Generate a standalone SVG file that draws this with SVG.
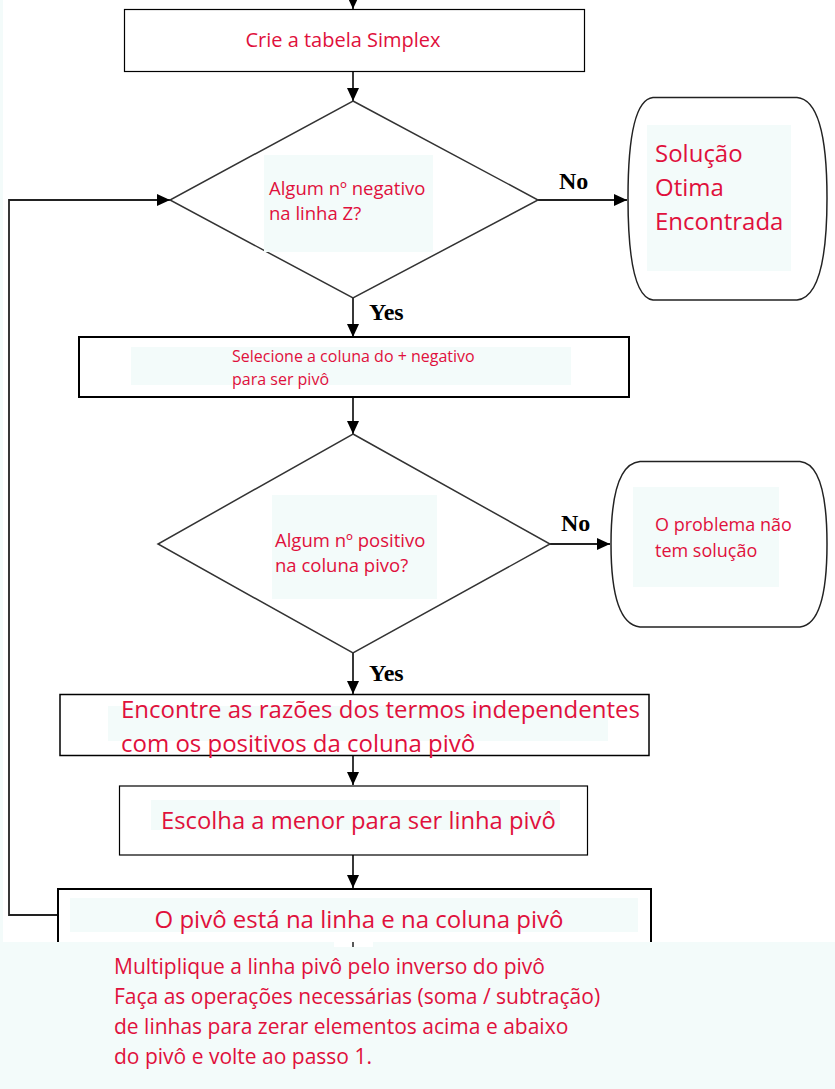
<svg xmlns="http://www.w3.org/2000/svg" width="835" height="1089" viewBox="0 0 835 1089">
<defs>
<marker id="ah" viewBox="0 0 13 12" refX="13" refY="6" markerWidth="13" markerHeight="12" markerUnits="userSpaceOnUse" orient="auto">
<path d="M0,0 L13,6 L0,12 Z" fill="#000"/>
</marker>
</defs>
<style>
.t{font-family:"Open Sans","Noto Sans","Liberation Sans",sans-serif;fill:#e0103c}
.bg{fill:#f3fbfa}
.box{fill:#fff;stroke:#000}
.dia{fill:#fff;stroke:#333;stroke-width:1.5}
.lbl{font-family:"Liberation Serif",serif;font-weight:bold;font-size:24px;fill:#000}
.c{fill:none;stroke:#222;stroke-width:1.8}
</style>
<rect x="0" y="0" width="835" height="1089" fill="#fff"/>
<rect x="0" y="0" width="3" height="1089" class="bg"/>

<g id="connectors">
<line class="c" x1="353" y1="0" x2="353" y2="9" marker-end="url(#ah)"/>
<line class="c" x1="353" y1="71" x2="353" y2="101" marker-end="url(#ah)"/>
<line class="c" x1="538" y1="200" x2="627" y2="200" marker-end="url(#ah)"/>
<line class="c" x1="353" y1="298" x2="353" y2="337" marker-end="url(#ah)"/>
<line class="c" x1="353" y1="397" x2="353" y2="434" marker-end="url(#ah)"/>
<line class="c" x1="550" y1="544" x2="610" y2="544" marker-end="url(#ah)"/>
<line class="c" x1="353" y1="653" x2="353" y2="694" marker-end="url(#ah)"/>
<line class="c" x1="353" y1="755" x2="353" y2="785" marker-end="url(#ah)"/>
<line class="c" x1="353" y1="855" x2="353" y2="888" marker-end="url(#ah)"/>
<polyline class="c" points="58,915 9,915 9,200 170,200" marker-end="url(#ah)"/>
<text class="lbl" x="559" y="189">No</text>
<text class="lbl" x="369" y="320">Yes</text>
<text class="lbl" x="561" y="531">No</text>
<text class="lbl" x="369" y="681">Yes</text>
</g>

<g id="n1">
<rect class="box" x="124.5" y="9.5" width="460" height="62" stroke-width="1.2"/>
<text class="t" x="343" y="47" font-size="20" text-anchor="middle">Crie a tabela Simplex</text>
</g>

<g id="d1">
<polygon class="dia" points="353,101 538,200 353,298 170,200"/>
<rect class="bg" x="264" y="155" width="169" height="97"/>
<text class="t" x="269" y="195" font-size="18.5">Algum nº negativo</text>
<text class="t" x="269" y="220" font-size="18.5">na linha Z?</text>
</g>

<g id="t1">
<path d="M653,97.5 L797,97.5 Q827,100 827,198 Q827,297 797,300 L653,300 Q628,297 628,198 Q628,100 653,97.5 Z" fill="#fff" stroke="#222" stroke-width="1.5"/>
<rect class="bg" x="647" y="125" width="144" height="146"/>
<text class="t" x="655" y="162" font-size="24">Solução</text>
<text class="t" x="655" y="196" font-size="24">Otima</text>
<text class="t" x="655" y="230" font-size="24">Encontrada</text>
</g>

<g id="n2">
<rect class="box" x="79" y="337" width="550" height="60" stroke-width="2"/>
<rect class="bg" x="131" y="347" width="440" height="38"/>
<text class="t" x="232" y="362" font-size="16">Selecione a coluna do + negativo</text>
<text class="t" x="232" y="385" font-size="16">para ser pivô</text>
</g>

<g id="d2">
<polygon class="dia" points="353,434 550,544 353,653 158,544"/>
<rect class="bg" x="272" y="495" width="165" height="104"/>
<text class="t" x="275" y="547" font-size="18.5">Algum nº positivo</text>
<text class="t" x="275" y="572" font-size="18.5">na coluna pivo?</text>
</g>

<g id="t2">
<path d="M640,461.5 L800,461.5 Q827,464 827,544 Q827,624 800,627 L640,627 Q611,624 611,544 Q611,464 640,461.5 Z" fill="#fff" stroke="#222" stroke-width="1.5"/>
<rect class="bg" x="633" y="487" width="146" height="100"/>
<text class="t" x="655" y="531" font-size="18">O problema não</text>
<text class="t" x="655" y="557" font-size="18">tem solução</text>
</g>

<g id="n3">
<rect class="box" x="60" y="694.5" width="589" height="61" stroke-width="1.5"/>
<rect class="bg" x="108" y="706" width="500" height="35"/>
<text class="t" x="121" y="718" font-size="24">Encontre as razões dos termos independentes</text>
<text class="t" x="121" y="752" font-size="24">com os positivos da coluna pivô</text>
</g>

<g id="n4">
<rect class="box" x="119.5" y="786" width="468" height="69" stroke-width="1.2"/>
<rect class="bg" x="151" y="800" width="409" height="30"/>
<text class="t" x="161" y="829" font-size="23.8">Escolha a menor para ser linha pivô</text>
</g>

<g id="n5">
<rect class="box" x="58" y="889" width="593" height="80" stroke-width="2"/>
<rect class="bg" x="70" y="898" width="568" height="34"/>
<text class="t" x="359" y="928" font-size="24" text-anchor="middle">O pivô está na linha e na coluna pivô</text>
</g>

<g id="n6">
<rect class="bg" x="3" y="942" width="832" height="147"/>
<rect x="334" y="942" width="39" height="5" fill="#fff"/>
<line x1="353" y1="942" x2="353" y2="947" stroke="#222" stroke-width="1.5"/>
<text class="t" x="114" y="974" font-size="21">Multiplique a linha pivô pelo inverso do pivô</text>
<text class="t" x="114" y="1004" font-size="21">Faça as operações necessárias (soma / subtração)</text>
<text class="t" x="114" y="1034" font-size="21">de linhas para zerar elementos acima e abaixo</text>
<text class="t" x="114" y="1064" font-size="21">do pivô e volte ao passo 1.</text>
</g>
</svg>
